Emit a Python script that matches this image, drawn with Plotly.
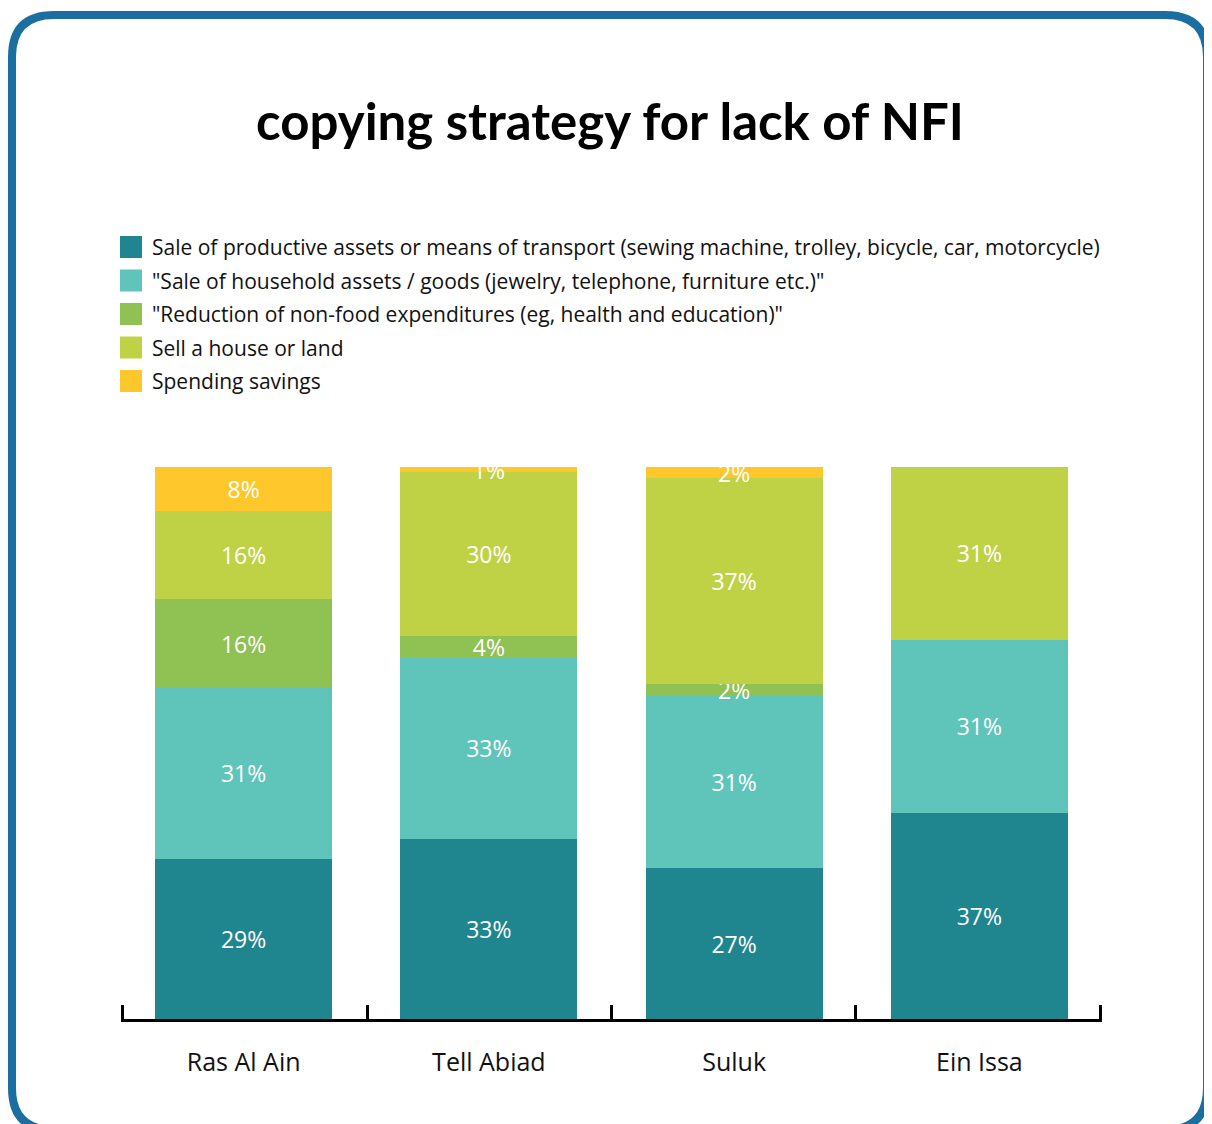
import plotly.graph_objects as go

# data
title = "copying strategy for lack of NFI"
regions = ["Ras Al Ain", "Tell Abiad", "Suluk", "Ein Issa"]
series_names = [
    "Sale of productive assets or means of transport (sewing machine, trolley, bicycle, car, motorcycle)",
    "\"Sale of household assets / goods (jewelry, telephone, furniture etc.)\"",
    "\"Reduction of non-food expenditures (eg, health and education)\"",
    "Sell a house or land",
    "Spending savings",
]
productive_assets = [29, 33, 27, 37]
household_assets = [31, 33, 31, 31]
non_food_reduction = [16, 4, 2, 0]
sell_house = [16, 30, 37, 31]
spending_savings = [8, 1, 2, 0]

series_values = [productive_assets, household_assets, non_food_reduction, sell_house, spending_savings]
colors = ["#1f868f", "#5fc4b9", "#8fc153", "#bfd246", "#fec82c"]

# the page body adds an 8px margin, so the figure is shrunk by that much
OFF = 8
W, H = 1212 - OFF, 1124 - OFF
L, R, T, B = 121 - OFF, 1102 - OFF, 467 - OFF, 1019 - OFF  # plot area in figure pixels


def px(x):
    # x given in screenshot pixels
    return (x - OFF - L) / (R - L)


def py(y):
    return (B - (y - OFF)) / (B - T)


FONT = "'Open Sans', 'Noto Sans', sans-serif"

fig = go.Figure()
for name, vals, col in zip(series_names, series_values, colors):
    fig.add_trace(go.Bar(
        x=regions, y=vals, name=name,
        marker=dict(color=col, line=dict(width=0)),
        text=[f"{v}%" if v else "" for v in vals],
        textposition="inside", insidetextanchor="middle",
        textfont=dict(color="white", size=23, family=FONT),
        constraintext="none",
        hoverinfo="x+y+name",
        showlegend=False,
    ))

# invisible helper trace so the boundary ticks (incl. both ends) live on a linear axis
fig.add_trace(go.Scatter(x=[-0.5, 3.5], y=[0, 0], xaxis="x2", mode="markers",
                         marker=dict(opacity=0), hoverinfo="skip", showlegend=False))

# legend drawn by hand to get the large swatches
shapes = []
annotations = []
for i, (name, col) in enumerate(zip(series_names, colors)):
    yc = 247 + i * 33.5
    shapes.append(dict(
        type="rect", xref="paper", yref="paper",
        x0=px(120), x1=px(142), y0=py(yc - 11), y1=py(yc + 11),
        fillcolor=col, line=dict(width=0),
    ))
    annotations.append(dict(
        text=name, xref="paper", yref="paper",
        x=px(150), y=py(yc), xanchor="left", yanchor="middle",
        showarrow=False, font=dict(size=21, color="#111111", family=FONT),
    ))

# rounded frame
x0, x1, y0, y1, r = 12, 1207, 15, 1130, 42
frame = (
    f"M {px(x0 + r)},{py(y0)} L {px(x1 - r)},{py(y0)} "
    f"Q {px(x1)},{py(y0)} {px(x1)},{py(y0 + r)} "
    f"L {px(x1)},{py(y1 - r)} Q {px(x1)},{py(y1)} {px(x1 - r)},{py(y1)} "
    f"L {px(x0 + r)},{py(y1)} Q {px(x0)},{py(y1)} {px(x0)},{py(y1 - r)} "
    f"L {px(x0)},{py(y0 + r)} Q {px(x0)},{py(y0)} {px(x0 + r)},{py(y0)} Z"
)
shapes.append(dict(type="path", xref="paper", yref="paper", path=frame,
                   line=dict(color="#1b6fa0", width=8)))

fig.update_layout(
    width=W, height=H,
    margin=dict(l=L, r=W - R, t=T, b=H - B),
    paper_bgcolor="white", plot_bgcolor="white",
    barmode="stack", barnorm="percent", bargap=0.278,
    uniformtext=dict(minsize=23, mode="show"),
    title=dict(text=f"<b>{title}</b>", x=0.5, xanchor="center",
               y=1 - (122 - OFF) / H, yanchor="middle",
               font=dict(size=51, color="black", family="Lato, sans-serif")),
    xaxis=dict(
        range=[-0.5, 3.5],
        showline=True, linecolor="black", linewidth=3,
        ticks="", ticklabelstandoff=19,
        tickfont=dict(size=25, color="#111111", family=FONT),
        showgrid=False, zeroline=False,
    ),
    xaxis2=dict(
        overlaying="x", side="bottom", range=[-0.507, 3.507],
        tickmode="array", tickvals=[-0.5, 0.5, 1.5, 2.5, 3.5],
        ticks="inside", ticklen=14, tickwidth=3, tickcolor="black",
        showticklabels=False, showline=False, showgrid=False, zeroline=False,
    ),
    yaxis=dict(range=[0, 100], visible=False, showgrid=False),
    shapes=shapes,
    annotations=annotations,
    showlegend=False,
)

fig.write_html("out.html")
